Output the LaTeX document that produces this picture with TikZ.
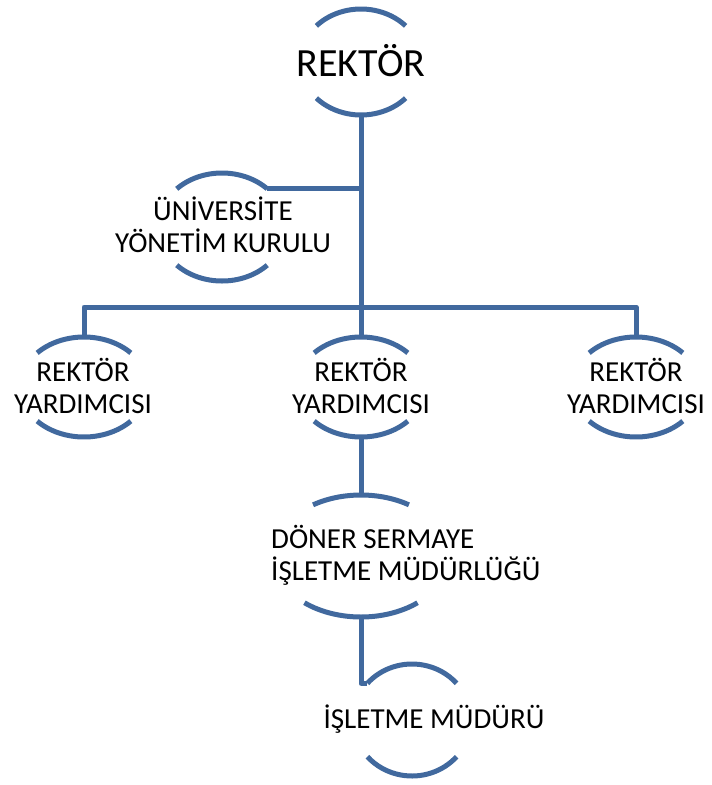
\documentclass[tikz,border=0pt]{standalone}
\usepackage{fontspec}
\setmainfont{Carlito}
\definecolor{orgblue}{HTML}{41699E}
\begin{document}
\begin{tikzpicture}[x=1pt, y=-1pt,
    orgline/.style={draw=orgblue, line width=5pt, line join=round},
    orglabel/.style={font=\fontsize{29}{32}\selectfont, align=center, inner sep=0pt}]
    \useasboundingbox (0,0) rectangle (712,785);

    \node[font=\fontsize{40}{44}\selectfont, inner sep=0pt] (rektor) at (361,61) {REKTÖR};
    \node[orglabel] (kurul) at (223,225) {ÜNİVERSİTE\\YÖNETİM KURULU};
    \node[orglabel] (yrd-l) at (83,386) {REKTÖR\\YARDIMCISI};
    \node[orglabel] (yrd-m) at (361,386) {REKTÖR\\YARDIMCISI};
    \node[orglabel] (yrd-r) at (636,386) {REKTÖR\\YARDIMCISI};
    \node[orglabel, align=left, anchor=west] (doner) at (271,555) {DÖNER SERMAYE\\İŞLETME MÜDÜRLÜĞÜ};
    \node[orglabel] (mudur) at (434,719) {İŞLETME MÜDÜRÜ};

    \coordinate (rektor-c) at (361,62);
    \coordinate (kurul-c) at (222,227);
    \coordinate (yrd-l-c) at (84,387);
    \coordinate (yrd-m-c) at (361,387);
    \coordinate (yrd-r-c) at (636,387);
    \coordinate (doner-c) at (361,556);
    \coordinate (mudur-c) at (412,720);

    \draw[orgline] (rektor-c) ++(223:61 and 53) arc[start angle=223, end angle=317, x radius=61, y radius=53];
    \draw[orgline] (rektor-c) ++(43:61 and 53) arc[start angle=43, end angle=137, x radius=61, y radius=53];
    \draw[orgline] (kurul-c) ++(315:64 and 54) coordinate (kurul-tr) arc[start angle=315, end angle=225, x radius=64, y radius=54];
    \draw[orgline] (kurul-c) ++(45:64 and 54) arc[start angle=45, end angle=135, x radius=64, y radius=54];
    \draw[orgline] (yrd-l-c) ++(223:64 and 50) arc[start angle=223, end angle=317, x radius=64, y radius=50];
    \draw[orgline] (yrd-l-c) ++(43:64 and 50) arc[start angle=43, end angle=137, x radius=64, y radius=50];
    \draw[orgline] (yrd-m-c) ++(223:64 and 50) arc[start angle=223, end angle=317, x radius=64, y radius=50];
    \draw[orgline] (yrd-m-c) ++(43:64 and 50) arc[start angle=43, end angle=137, x radius=64, y radius=50];
    \draw[orgline] (yrd-r-c) ++(223:64 and 50) arc[start angle=223, end angle=317, x radius=64, y radius=50];
    \draw[orgline] (yrd-r-c) ++(43:64 and 50) arc[start angle=43, end angle=137, x radius=64, y radius=50];
    \draw[orgline] (doner-c) ++(237:88 and 61) arc[start angle=237, end angle=303, x radius=88, y radius=61];
    \draw[orgline] (doner-c) ++(50:88 and 61) arc[start angle=50, end angle=130, x radius=88, y radius=61];
    \draw[orgline] (mudur-c) ++(221:59 and 56) coordinate (mudur-tl) arc[start angle=221, end angle=319, x radius=59, y radius=56];
    \draw[orgline] (mudur-c) ++(41:59 and 56) arc[start angle=41, end angle=139, x radius=59, y radius=56];

    \coordinate (rektor-b) at (361,115);
    \coordinate (bus) at (361,307);
    \coordinate (yrd-l-t) at (84,337);
    \coordinate (yrd-m-t) at (361,337);
    \coordinate (yrd-r-t) at (636,337);
    \coordinate (yrd-m-b) at (361,437);
    \coordinate (doner-t) at (361,495);
    \coordinate (doner-b) at (361,617);

    \draw[orgline] (rektor-b) -- (yrd-m-t);
    \draw[orgline] (kurul-tr) -- (kurul-tr -| rektor-b);
    \draw[orgline] (yrd-l-t) |- (bus) -| (yrd-r-t);
    \draw[orgline] (yrd-m-b) -- (doner-t);
    \draw[orgline] (doner-b) |- (mudur-tl);

\end{tikzpicture}
\end{document}
